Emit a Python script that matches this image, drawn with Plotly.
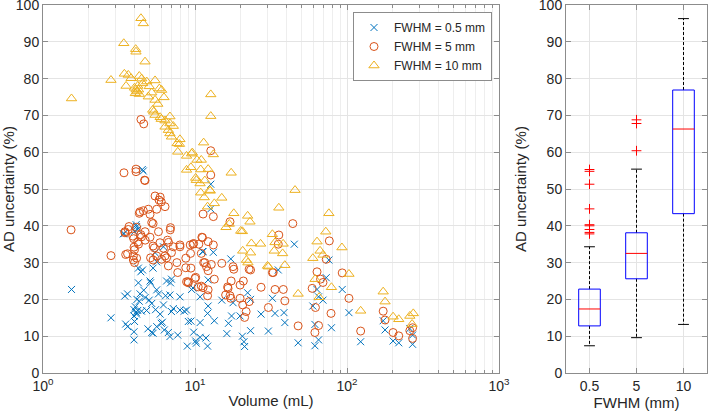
import plotly.graph_objects as go

# ---------------- data: FWHM = 0.5 mm ----------------
vol_05 = [1.54, 2.8, 3.45, 3.6, 3.5, 3.6, 3.41, 3.38, 3.97, 3.97, 3.97, 3.97, 4.0, 4.05, 4.1, 4.13, 4.13,
          4.0, 4.2, 4.1, 4.15, 4.2, 4.24, 4.24, 4.3, 4.35, 4.4, 4.45, 4.52, 4.57, 4.5, 4.6, 4.7, 4.8,
          4.9, 5.0, 5.06, 5.1, 5.19, 5.19, 5.3, 5.3, 5.46, 5.5, 5.6, 5.6, 5.6, 5.75, 5.9, 6.0, 6.1, 6.2,
          6.2, 6.28, 6.4, 6.5, 6.68, 6.84, 6.84, 6.9, 7.0, 7.0, 7.2, 7.7, 7.96, 7.96, 8.5, 8.8, 8.9, 9.04,
          9.4, 9.5, 9.7, 9.8, 10.1, 10.2, 10.8, 10.8, 10.8, 11.2, 11.3, 11.8, 12.1, 12.1, 12.2, 12.2, 12.7,
          12.7, 13.2, 13.4, 15.0, 16.2, 16.6, 17.2, 17.4, 17.8, 19.8, 20.5, 21.0, 21.2, 22.2, 23.2, 23.2,
          27.2, 30.4, 32.3, 33.6, 35.3, 38.5, 39.0, 45.0, 47.7, 59.6, 61.5, 61.5, 63.5, 65.0, 65.0, 69.5,
          73.0, 76.0, 79.0, 93.0, 103.0, 123.0, 173.0, 178.0, 201.0, 219.0, 259.0, 270.0, 270.0]
ad_05 = [22.7, 15.0, 20.9, 21.5, 13.3, 12.6, 37.9, 37.8, 9.0, 11.2, 15.5, 17.2, 14.0, 18.0, 16.5, 16.0, 39.8,
         38.5, 39.0, 40.3, 20.0, 17.0, 28.5, 24.5, 19.5, 21.5, 27.5, 16.8, 28.0, 54.9, 55.3, 22.5, 20.5, 17.0,
         12.0, 19.8, 25.0, 24.5, 18.9, 11.0, 10.8, 28.5, 32.7, 17.2, 22.6, 30.2, 12.6, 21.5, 16.0, 13.5, 13.8, 34.3,
         18.5, 11.7, 21.0, 25.0, 11.0, 9.9, 21.2, 24.5, 16.7, 25.5, 17.5, 10.3, 20.7, 17.1, 16.8, 17.1, 7.3, 14.0,
         14.1, 22.7, 23.1, 11.1, 8.7, 8.1, 20.7, 13.7, 9.7, 33.0, 33.0, 9.5, 16.2, 7.3, 25.3, 18.2, 51.3,
         44.6, 32.8, 14.2, 19.8, 10.7, 13.5, 31.0, 15.5, 19.1, 15.5, 10.0, 8.5, 7.2, 21.8, 20.0, 11.5,
         16.0, 11.4, 20.3, 16.2, 28.0, 16.4, 13.7, 35.0, 8.2, 18.2, 13.2, 7.4, 22.7, 20.7, 9.0, 19.8,
         25.9, 30.7, 12.3, 22.7, 16.4, 8.5, 14.2, 11.7, 8.7, 8.2, 12.1, 10.3, 7.8]

# ---------------- data: FWHM = 5 mm ----------------
vol_5 = [1.53, 2.8, 3.41, 4.09, 4.09, 4.66, 4.41, 4.6, 4.69, 5.46, 5.8, 6.0, 5.9, 6.35, 5.6, 4.93, 4.34, 4.57,
         5.06, 4.3, 5.19, 5.3, 4.13, 3.64, 3.68, 3.46, 3.46, 4.69, 4.4, 4.45, 6.87, 6.9, 5.75, 3.9, 3.95, 5.06,
         6.6, 6.7, 4.2, 4.25, 4.7, 7.96, 7.96, 3.97, 4.0, 5.88, 5.3, 5.4, 6.2, 7.2, 9.3, 9.8, 9.7, 10.6, 11.2,
         12.2, 13.2, 3.5, 3.6, 3.93, 4.13, 5.1, 5.6, 6.35, 5.3, 6.03, 6.5, 7.0, 9.35, 11.0, 8.7, 6.68, 7.6,
         3.93, 4.0, 8.8, 7.7, 8.7, 9.04, 9.4, 10.0, 10.1, 11.4, 11.6, 11.9, 12.2, 12.8, 13.4, 15.0, 11.0, 11.3,
         12.2, 12.1, 10.5, 9.0, 12.7, 12.7, 11.3, 13.2, 17.0, 44.0, 11.1, 35.3, 35.6, 76.5, 17.3, 20.8, 19.8,
         16.4, 16.5, 17.0, 15.9, 17.2, 17.8, 18.0, 23.2, 22.7, 32.3, 27.2, 33.6, 38.1, 39.0, 20.6, 19.8, 30.4,
         21.7, 21.2, 22.7, 73.0, 32.7, 63.5, 93.0, 67.0, 69.5, 59.0, 103.0, 62.0, 78.5, 173.0, 178.0, 47.7,
         65.0, 61.5, 123.0, 201.0, 219.0, 259.0, 270.0, 270.0]
ad_5 = [38.9, 31.9, 54.4, 54.7, 55.4, 52.4, 68.9, 67.7, 52.3, 48.1, 47.0, 46.5, 47.8, 45.2, 44.5, 44.5, 43.8, 44.1,
        43.1, 43.4, 40.9, 40.6, 39.6, 39.0, 39.8, 38.1, 38.4, 38.4, 37.6, 37.0, 38.9, 39.5, 38.4, 37.2, 36.5, 36.9,
        36.1, 35.5, 35.6, 35.0, 36.1, 34.8, 34.3, 34.2, 33.5, 35.4, 34.5, 34.0, 33.9, 34.3, 34.8, 35.2, 35.0, 35.0, 36.8,
        35.7, 34.8, 32.2, 32.4, 31.8, 31.2, 31.3, 31.8, 31.8, 30.7, 30.9, 31.3, 32.7, 32.5, 32.5, 31.2, 29.1, 30.0,
        30.7, 30.0, 24.8, 27.3, 28.6, 24.5, 28.5, 25.7, 26.0, 30.0, 30.0, 28.9, 27.8, 29.5, 25.5, 29.8, 23.6, 23.2,
        22.6, 21.0, 23.4, 24.8, 60.4, 53.8, 43.2, 42.5, 41.1, 40.6, 36.9, 35.0, 37.5, 35.9, 25.0, 25.0, 23.9,
        23.4, 23.0, 21.0, 21.2, 20.3, 28.9, 28.2, 28.0, 28.2, 27.3, 23.3, 22.7, 22.7, 19.6, 18.5, 20.3, 17.8,
        16.7, 15.1, 19.4, 30.9, 27.3, 27.5, 27.2, 25.5, 24.6, 23.0, 20.3, 17.8, 16.2, 16.8, 14.4, 12.8,
        12.9, 11.0, 11.4, 11.0, 10.1, 11.5, 12.3, 9.4]

# ---------------- data: FWHM = 10 mm ----------------
vol_10 = [1.54, 2.8, 3.4, 4.07, 4.09, 4.41, 4.57, 4.69, 3.43, 3.64, 3.52, 3.8, 4.3, 4.46, 4.0, 4.1, 4.15, 4.2,
          4.25, 4.05, 4.3, 4.53, 4.81, 5.46, 5.0, 5.83, 6.03, 5.19, 6.25, 4.93, 5.46, 5.69, 5.27, 5.35, 5.46, 5.9,
          6.0, 6.84, 6.35, 6.84, 6.35, 7.2, 6.68, 6.84, 7.0, 7.96, 7.63, 7.9, 7.7, 8.8, 9.5, 9.6, 10.3, 11.0, 11.4,
          12.7, 12.7, 13.2, 8.8, 9.4, 10.9, 12.2, 17.3, 10.1, 10.2, 10.8, 11.6, 12.5, 12.6, 10.9, 11.5, 15.0, 13.4,
          12.1, 18.0, 22.2, 35.6, 45.5, 16.8, 16.0, 20.0, 20.5, 32.3, 27.0, 20.6, 23.2, 33.2, 37.7, 21.8, 22.3,
          30.0, 39.0, 23.0, 76.0, 72.5, 63.5, 33.6, 38.0, 66.5, 69.5, 92.6, 23.5, 59.6, 30.4, 61.7, 103.0, 79.0,
          47.7, 65.5, 173.0, 178.0, 123.0, 201.0, 219.0, 259.0, 273.0, 268.0]
ad_10 = [74.6, 79.6, 89.6, 88.0, 87.3, 96.4, 95.0, 84.6, 81.3, 81.0, 78.0, 80.1, 80.7, 80.0, 77.5, 77.0, 76.5, 78.0,
         77.0, 76.0, 75.8, 78.7, 79.2, 79.5, 77.9, 77.3, 76.9, 76.2, 74.9, 75.1, 74.2, 73.1, 71.5, 71.0, 70.1, 69.5,
         69.0, 69.7, 68.6, 67.8, 66.9, 67.1, 66.0, 65.1, 64.2, 63.5, 62.4, 62.2, 60.1, 59.0, 59.6, 59.9, 57.9, 57.9, 62.6,
         75.7, 69.8, 59.4, 55.2, 55.9, 55.3, 55.4, 54.4, 53.0, 52.4, 51.5, 52.3, 49.7, 49.5, 49.0, 47.7, 47.6, 46.1,
         45.2, 43.4, 42.7, 44.9, 49.7, 40.5, 39.6, 38.6, 38.5, 37.7, 35.1, 33.2, 32.7, 33.2, 32.5, 30.7, 30.0,
         29.1, 29.3, 41.1, 43.4, 38.4, 35.7, 35.5, 35.1, 33.2, 32.1, 34.1, 35.2, 31.2, 28.9, 25.5, 26.9, 23.3,
         21.5, 20.6, 22.1, 19.4, 16.9, 15.3, 14.6, 15.5, 16.2, 13.3]

# ---------------- box plot summary ----------------
fwhm_labels = ["0.5", "5", "10"]
box_q1 = [12.8, 25.6, 43.3]
box_median = [17.4, 32.5, 66.3]
box_q3 = [22.8, 38.1, 76.9]
whisker_low = [7.4, 9.6, 13.2]
whisker_high = [34.3, 55.4, 96.3]
outliers_05 = [37.8, 38.2, 39.0, 40.0, 40.3, 44.6, 51.3, 54.8, 55.3]
outliers_5 = [60.4, 67.8, 68.8]
outliers_10 = []

# axis tick values
vol_ticks = [1, 10, 100, 1000]
vol_ticktext = ["10<sup>0</sup>", "10<sup>1</sup>", "10<sup>2</sup>", "10<sup>3</sup>"]
vol_minor = [m * d for d in (1, 10, 100) for m in range(2, 10)]

series_names = ["FWHM = 0.5 mm", "FWHM = 5 mm", "FWHM = 10 mm"]
colors = ["#0072BD", "#D95319", "#EDB120"]

FONT = "Liberation Sans, Arial, Helvetica, sans-serif"
TXT = "#262626"
AXC = "#8c8c8c"
GRID = "#e4e4e4"

fig = go.Figure()

fig.add_trace(go.Scatter(x=vol_05, y=ad_05, mode="markers", name=series_names[0],
                         marker=dict(symbol="x-thin-open", size=7, color=colors[0],
                                     line=dict(color=colors[0], width=1)),
                         xaxis="x", yaxis="y"))
fig.add_trace(go.Scatter(x=vol_5, y=ad_5, mode="markers", name=series_names[1],
                         marker=dict(symbol="circle-open", size=8, color=colors[1],
                                     line=dict(color=colors[1], width=1)),
                         xaxis="x", yaxis="y"))
fig.add_trace(go.Scatter(x=vol_10, y=ad_10, mode="markers", name=series_names[2],
                         marker=dict(symbol="triangle-up-open", size=9, color=colors[2],
                                     line=dict(color=colors[2], width=1)),
                         xaxis="x", yaxis="y"))

# box plot built from the summary arrays
hw = 0.23   # half box width (category units)
cw = 0.115  # half cap width
bx, by, mx, my, wx, wy, cx, cy = [], [], [], [], [], [], [], []
for i in range(len(fwhm_labels)):
    p = i + 1
    bx += [p - hw, p + hw, p + hw, p - hw, p - hw, None]
    by += [box_q1[i], box_q1[i], box_q3[i], box_q3[i], box_q1[i], None]
    mx += [p - hw, p + hw, None]
    my += [box_median[i], box_median[i], None]
    wx += [p, p, None, p, p, None]
    wy += [box_q3[i], whisker_high[i], None, box_q1[i], whisker_low[i], None]
    cx += [p - cw, p + cw, None, p - cw, p + cw, None]
    cy += [whisker_high[i], whisker_high[i], None, whisker_low[i], whisker_low[i], None]

fig.add_trace(go.Scatter(x=wx, y=wy, mode="lines", line=dict(color="#000000", width=1, dash="3px,2px"),
                         showlegend=False, xaxis="x2", yaxis="y2", hoverinfo="skip"))
fig.add_trace(go.Scatter(x=cx, y=cy, mode="lines", line=dict(color="#000000", width=1),
                         showlegend=False, xaxis="x2", yaxis="y2", hoverinfo="skip"))
fig.add_trace(go.Scatter(x=bx, y=by, mode="lines", line=dict(color="#0000FF", width=1),
                         showlegend=False, xaxis="x2", yaxis="y2", hoverinfo="skip"))
fig.add_trace(go.Scatter(x=mx, y=my, mode="lines", line=dict(color="#FF0000", width=1),
                         showlegend=False, xaxis="x2", yaxis="y2", hoverinfo="skip"))
ox = [1] * len(outliers_05) + [2] * len(outliers_5) + [3] * len(outliers_10)
oy = outliers_05 + outliers_5 + outliers_10
fig.add_trace(go.Scatter(x=ox, y=oy, mode="markers",
                         marker=dict(symbol="cross-thin-open", size=7, color="#FF0000",
                                     line=dict(color="#FF0000", width=1)),
                         showlegend=False, xaxis="x2", yaxis="y2"))

W, H = 709, 416
axis_common = dict(showline=True, linecolor=AXC, linewidth=1, mirror="ticks", ticks="inside",
                   tickcolor=AXC, ticklen=5, showgrid=True, gridcolor=GRID, gridwidth=1, zeroline=False,
                   tickfont=dict(family=FONT, size=14, color=TXT), automargin=False,
                   ticklabeloverflow="allow")
title_font = dict(family=FONT, size=15, color=TXT)

fig.update_layout(
    width=W, height=H,
    margin=dict(l=0, r=0, t=0, b=0),
    paper_bgcolor="white", plot_bgcolor="white",
    font=dict(family=FONT, size=14, color=TXT),
    showlegend=True,
    legend=dict(x=492 / W, y=1 - 12 / H, xanchor="right", yanchor="top",
                bgcolor="white", bordercolor=AXC, borderwidth=1,
                font=dict(family=FONT, size=12, color=TXT), itemwidth=30, tracegroupgap=0),
    xaxis=dict(domain=[43 / W, 499 / W], type="log", range=[0, 3],
               tickmode="array", tickvals=vol_ticks, ticktext=vol_ticktext,
               minor=dict(tickmode="array", tickvals=vol_minor, showgrid=True, gridcolor="#eeeeee",
                          ticks="inside", ticklen=3, tickcolor=AXC),
               title=dict(text="Volume (mL)", font=title_font, standoff=2),
               anchor="y", **axis_common),
    yaxis=dict(domain=[1 - 373 / H, 1 - 5 / H], range=[0, 100], dtick=10,
               title=dict(text="AD uncertainty (%)", font=title_font, standoff=8),
               anchor="x", **axis_common),
    xaxis2=dict(domain=[566 / W, 707 / W], range=[0.5, 3.5], tickvals=[1, 2, 3], ticktext=fwhm_labels,
                title=dict(text="FWHM (mm)", font=title_font, standoff=2),
                anchor="y2", **axis_common),
    yaxis2=dict(domain=[1 - 373 / H, 1 - 5 / H], range=[0, 100], dtick=10,
                title=dict(text="AD uncertainty (%)", font=title_font, standoff=8),
                anchor="x2", **axis_common),
)

fig.write_html("out.html", config={"displayModeBar": False},
               post_script="document.body.style.margin='0px';")
